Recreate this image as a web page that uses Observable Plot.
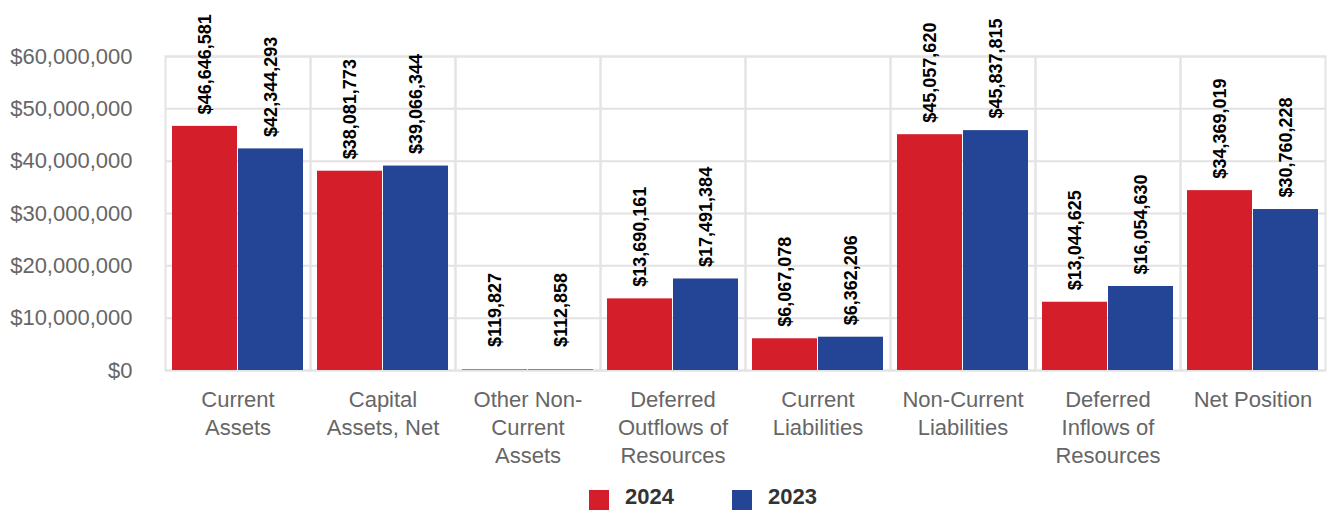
<!DOCTYPE html>
<html>
<head>
<meta charset="utf-8">
<script src="https://cdn.jsdelivr.net/npm/d3@7"></script>
<script src="https://cdn.jsdelivr.net/npm/@observablehq/plot@0.6"></script>
<style>
  html, body { margin: 0; padding: 0; background: #fff; }
  body { width: 1329px; height: 510px; overflow: hidden; font-family: "Liberation Sans", Arial, sans-serif; }
  #legend { position: relative; height: 26px; }
  .sw { position: absolute; top: 6px; width: 20px; height: 20px; }
  .lt { position: absolute; top: 1px; font-size: 22px; font-weight: bold; color: #333; line-height: 24px; }
</style>
</head>
<body>
<div id="chart"></div>
<div id="legend">
  <div class="sw" style="left:589px;background:#d41f2b"></div>
  <div class="lt" style="left:625px">2024</div>
  <div class="sw" style="left:732px;background:#244596"></div>
  <div class="lt" style="left:768px">2023</div>
</div>
<script>
const categories = ["Current Assets", "Capital Assets, Net", "Other Non-Current Assets", "Deferred Outflows of Resources", "Current Liabilities", "Non-Current Liabilities", "Deferred Inflows of Resources", "Net Position"];
const categoryLabels = ["Current\nAssets", "Capital\nAssets, Net", "Other Non-\nCurrent\nAssets", "Deferred\nOutflows of\nResources", "Current\nLiabilities", "Non-Current\nLiabilities", "Deferred\nInflows of\nResources", "Net Position"];
const series = ["2024", "2023"];
const values2024 = [46646581, 38081773, 119827, 13690161, 6067078, 45057620, 13044625, 34369019];
const values2023 = [42344293, 39066344, 112858, 17491384, 6362206, 45837815, 16054630, 30760228];
const yTicks = [0, 10000000, 20000000, 30000000, 40000000, 50000000, 60000000];
const colors = ["#d41f2b", "#244596"];

const data = [];
categories.forEach((c, i) => {
  data.push({cat: c, year: "2024", value: values2024[i]});
  data.push({cat: c, year: "2023", value: values2023[i]});
});
const labelOf = new Map(categories.map((c, i) => [c, categoryLabels[i]]));
const money = d => "$" + d3.format(",")(d);

const chart = Plot.plot({
  width: 1329,
  height: 484,
  marginLeft: 164,
  marginRight: 3,
  marginTop: 56,
  marginBottom: 114,
  style: {fontFamily: "'Liberation Sans', Arial, sans-serif", background: "#fff"},
  fx: {domain: categories, padding: 0, label: null},
  x: {domain: series, paddingInner: 0.02, paddingOuter: 0.1, axis: null},
  y: {domain: [0, 60000000], label: null},
  color: {domain: series, range: colors},
  marks: [
    Plot.gridY(yTicks, {stroke: "#e2e2e2", strokeOpacity: 1, strokeWidth: 2}),
    Plot.frame({stroke: "#e4e4e4", strokeWidth: 2}),
    Plot.axisY(yTicks, {tickSize: 0, tickPadding: 33, fontSize: 22, fill: "#666", tickFormat: money, label: null}),
    Plot.axisFx({anchor: "bottom", tickSize: 0, tickPadding: 17, fontSize: 22, fill: "#666", lineHeight: 1.27, tickFormat: d => labelOf.get(d), label: null}),
    Plot.barY(data, {fx: "cat", x: "year", y: "value", fill: "year"}),
    Plot.text(data, {fx: "cat", x: "year", y: d => Math.max(d.value, 2200000), text: d => money(d.value), rotate: -90, textAnchor: "start", lineAnchor: "middle", dy: -12, fontWeight: "bold", fontSize: 18, fill: "#000"})
  ]
});
document.getElementById("chart").appendChild(chart);
</script>
</body>
</html>
